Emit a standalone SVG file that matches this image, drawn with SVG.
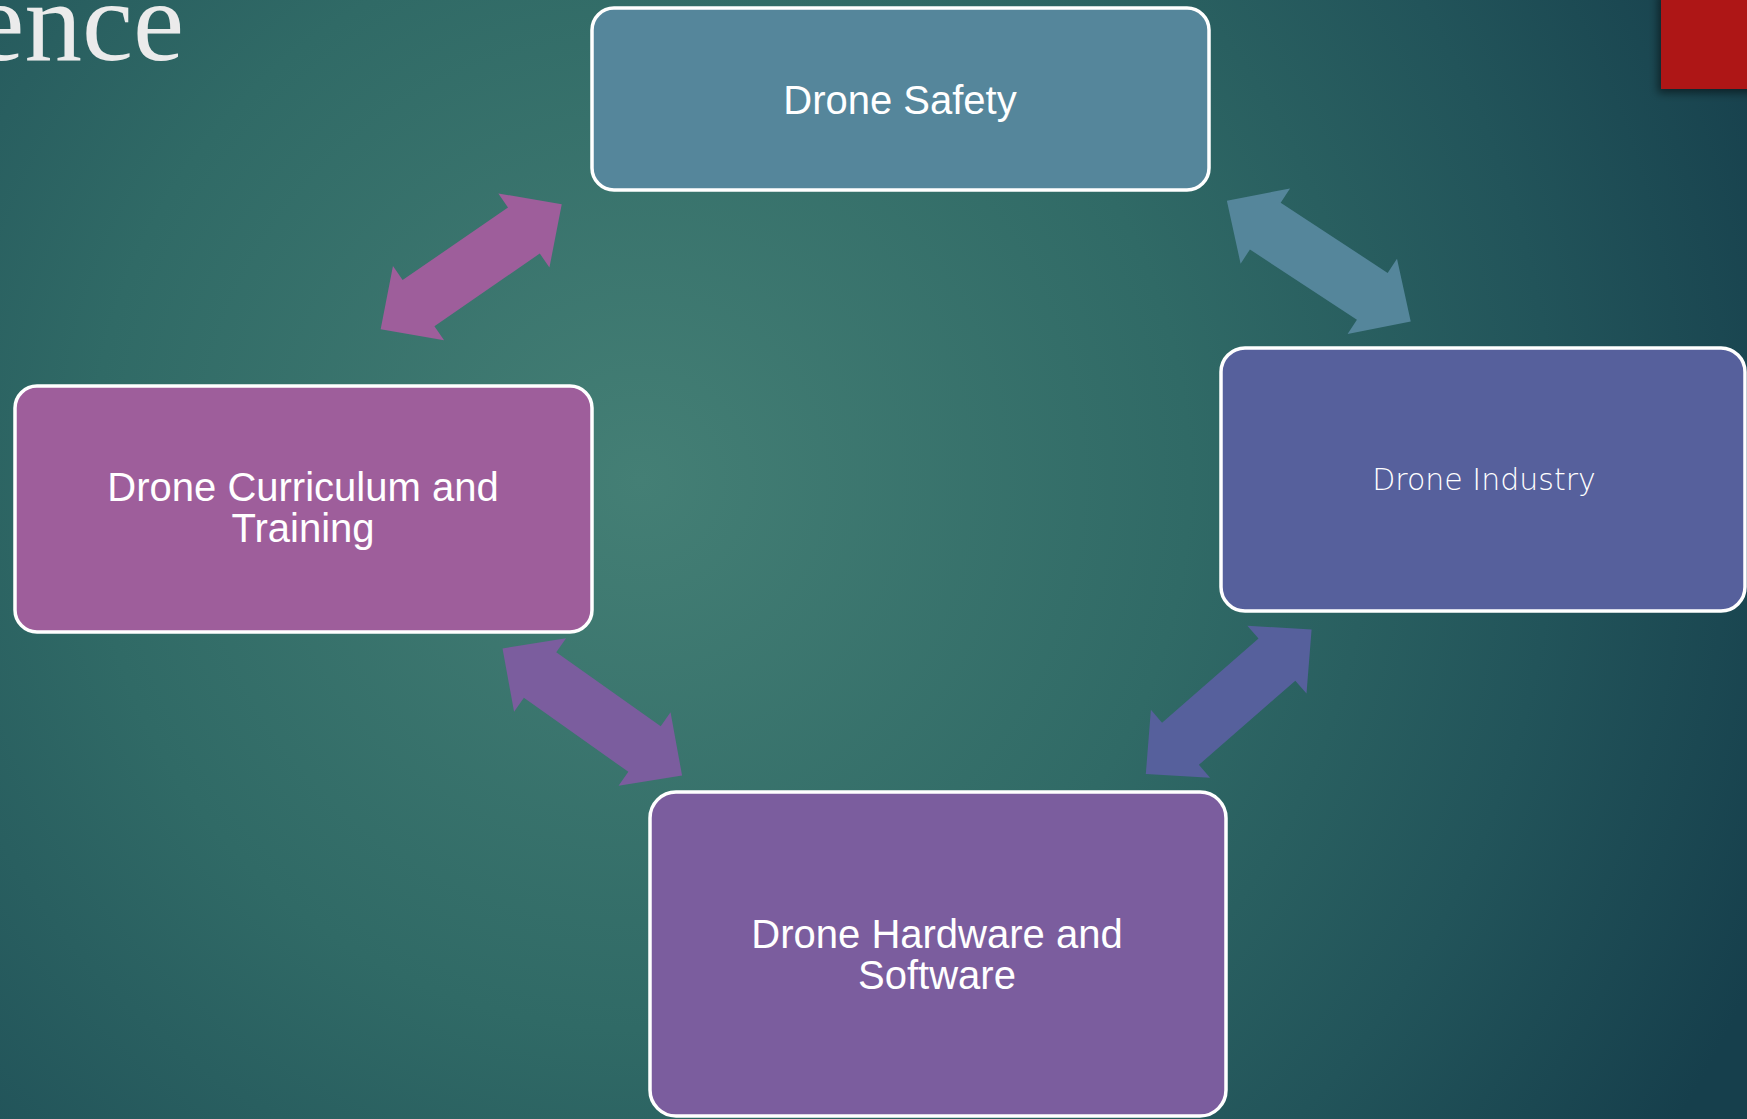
<svg xmlns="http://www.w3.org/2000/svg" xmlns:xlink="http://www.w3.org/1999/xlink" width="1747" height="1119" viewBox="0 0 1747 1119">
  <style>
    .box { stroke: #ffffff; stroke-width: 3.5; }
    .lbl { font-family: "Liberation Sans", Arial, sans-serif; font-size: 40px; fill: #ffffff; text-anchor: middle; }
    .thin { font-family: "DejaVu Sans", "Liberation Sans", sans-serif; font-weight: 200; font-size: 30px; fill: #ffffff; text-anchor: middle; }
  </style>
  <defs>
    <radialGradient id="bg" gradientUnits="userSpaceOnUse" cx="640" cy="480" r="1220">
      <stop offset="0" stop-color="#447f75"/>
      <stop offset="0.45" stop-color="#306a66"/>
      <stop offset="0.75" stop-color="#22545a"/>
      <stop offset="1" stop-color="#163f4c"/>
    </radialGradient>
    <path id="dblarrow" d="M-110,0 L-64,-45 L-64,-28 L64,-28 L64,-45 L110,0 L64,45 L64,28 L-64,28 L-64,45 Z"/>
    <filter id="shadow" x="-30%" y="-30%" width="160%" height="160%">
      <feDropShadow dx="-3" dy="4" stdDeviation="4" flood-color="#000000" flood-opacity="0.5"/>
    </filter>
  </defs>

  <rect x="0" y="0" width="1747" height="1119" fill="url(#bg)"/>

  <!-- title fragment -->
  <text x="184" y="60" font-family="'Liberation Serif', 'Times New Roman', serif" font-size="115" fill="#ebebeb" text-anchor="end">ence</text>

  <!-- red corner rectangle -->
  <rect x="1661" y="-10" width="100" height="99" fill="#ae1815" filter="url(#shadow)"/>

  <g id="connectors">
    <use xlink:href="#dblarrow" href="#dblarrow" fill="#9e5e9b" transform="translate(471.2,266.8) rotate(-34.6)"/>
    <use xlink:href="#dblarrow" href="#dblarrow" fill="#55869b" transform="translate(1318.8,261.2) rotate(33.3)"/>
    <use xlink:href="#dblarrow" href="#dblarrow" fill="#7b5d9e" transform="translate(592.3,712) rotate(35.3)"/>
    <use xlink:href="#dblarrow" href="#dblarrow" fill="#56609c" transform="translate(1228.7,701.7) rotate(-41.1)"/>
  </g>

  <g id="node-safety">
    <rect class="box" x="592" y="8" width="617" height="182" rx="22" fill="#55869b"/>
    <text class="lbl" x="900" y="114">Drone Safety</text>
  </g>

  <g id="node-curriculum">
    <rect class="box" x="15" y="386" width="577" height="246" rx="22" fill="#9e5e9b"/>
    <text class="lbl" x="303" y="501">Drone Curriculum and</text>
    <text class="lbl" x="303" y="542">Training</text>
  </g>

  <g id="node-industry">
    <rect class="box" x="1221" y="348" width="524" height="263" rx="24" fill="#56609c"/>
    <text class="thin" x="1484" y="490">Drone Industry</text>
  </g>

  <g id="node-hardware">
    <rect class="box" x="650" y="792" width="576" height="324" rx="26" fill="#7b5d9e"/>
    <text class="lbl" x="937" y="948">Drone Hardware and</text>
    <text class="lbl" x="937" y="989">Software</text>
  </g>
</svg>
